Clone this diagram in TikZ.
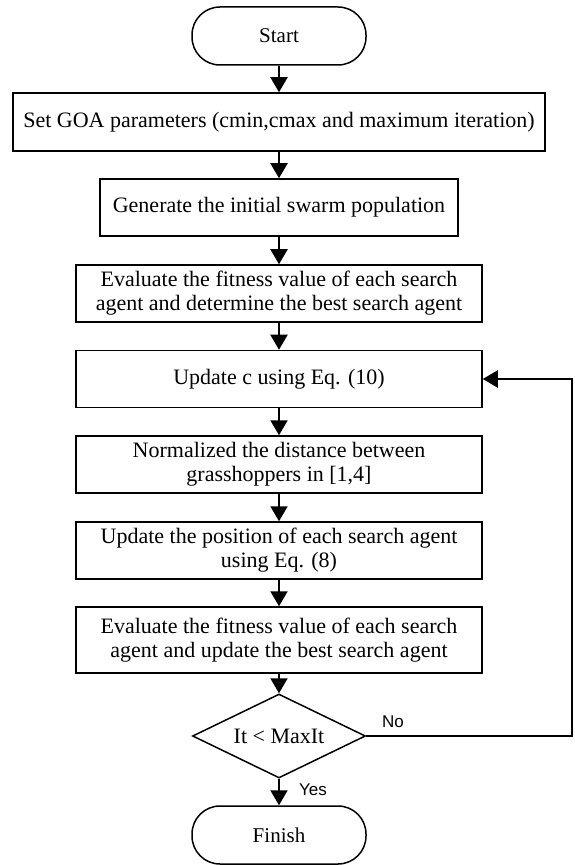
\documentclass[tikz,border=0pt]{standalone}
\usepackage{fontspec}
\setmainfont{Liberation Serif}
\newfontfamily\labelfont{Liberation Sans}
\usetikzlibrary{shapes.geometric,arrows.meta}

\tikzset{
  procbox/.style={draw, line width=0.75pt, minimum width=203pt, minimum height=28.5pt,
    align=center, inner sep=2pt, font=\fontsize{11}{12}\selectfont},
  termbox/.style={draw, line width=0.75pt, rounded corners=14pt, minimum width=87pt,
    minimum height=29pt, font=\fontsize{10.5}{11.5}\selectfont},
  decision/.style={diamond, draw, line width=0.75pt, aspect=2.06, minimum width=86.5pt,
    minimum height=42pt, inner sep=0pt, font=\fontsize{11}{12}\selectfont},
  flow/.style={-{Triangle[width=8.5pt,length=7.5pt]}, line width=1pt},
  branch/.style={font=\labelfont\fontsize{8.5}{9}\selectfont}
}

\begin{document}
\begin{tikzpicture}[x=0.5pt,y=-0.5pt]
  \useasboundingbox (0,0) rectangle (574,865);
  % steps of the flow, top to bottom
  \node[termbox] (start) at (279,36) {Start};
  \node[procbox,minimum width=266pt,minimum height=29pt] (setpar) at (279,122)
    {Set GOA parameters (cmin,cmax and maximum iteration)};
  \node[procbox,minimum width=179pt] (geninit) at (279,207.5)
    {Generate the initial swarm population};
  \node[procbox] (evalfirst) at (279,293.5)
    {Evaluate the fitness value of each search\\agent and determine the best search agent};
  \node[procbox] (updc) at (279,379) {Update c using Eq. (10)};
  \node[procbox] (normdist) at (279,464.5)
    {Normalized the distance between\\grasshoppers in [1,4]};
  \node[procbox] (updpos) at (279,550.5)
    {Update the position of each search agent\\using Eq. (8)};
  \node[procbox,minimum height=33pt] (evalbest) at (279,640)
    {Evaluate the fitness value of each search\\agent and update the best search agent};
  \node[decision] (check) at (279,736) {It < MaxIt};
  \node[termbox] (finish) at (279,835) {Finish};
  % arrows
  \draw[flow] (start) -- (setpar);
  \draw[flow] (setpar) -- (geninit);
  \draw[flow] (geninit) -- (evalfirst);
  \draw[flow] (evalfirst) -- (updc);
  \draw[flow] (updc) -- (normdist);
  \draw[flow] (normdist) -- (updpos);
  \draw[flow] (updpos) -- (evalbest);
  \draw[flow] (evalbest) -- (check);
  \draw[flow] (check) -- (finish);
  % loop back when more iterations remain
  \coordinate (loopturn) at (572,736);
  \draw[flow] (check.east) -- (loopturn) |- (updc.east);
  \node[branch] (nolabel) at (393,722) {No};
  \node[branch] (yeslabel) at (313,790) {Yes};
\end{tikzpicture}
\end{document}
